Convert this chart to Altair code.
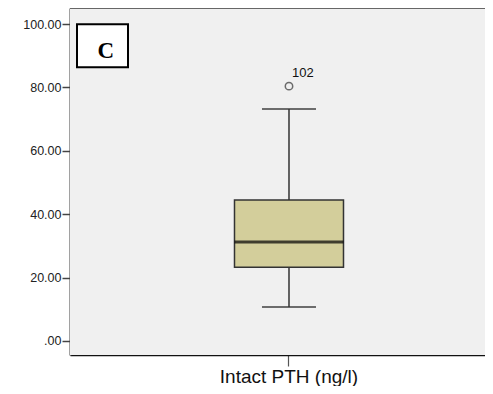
import altair as alt
import pandas as pd

# ---- data ----
categories = ["Intact PTH (ng/l)"]
q1 = [23.3]
median = [31.2]
q3 = [44.5]
whisker_low = [10.7]
whisker_high = [73.2]
outlier_values = [80.4]
outlier_labels = ["102"]
y_ticks = [0, 20, 40, 60, 80, 100]
panel_letter = "C"

box_df = pd.DataFrame({
    "cat": categories, "q1": q1, "median": median, "q3": q3,
    "lo": whisker_low, "hi": whisker_high,
})
out_df = pd.DataFrame({"cat": categories, "v": outlier_values, "lab": outlier_labels})

W, H = 415, 347
FONT = "Liberation Sans"

# band centred slightly right of the visible panel (the panel is cropped on the right)
xscale = alt.Scale(domain=categories, paddingInner=0, paddingOuter=0.5, align=0.5554)
yscale = alt.Scale(domain=[-4.42, 105.05], nice=False, zero=False)

xenc = alt.X("cat:N", scale=xscale, title=None,
             axis=alt.Axis(labelAngle=0, labelFontSize=19, labelFont=FONT,
                           labelColor="#111111", labelPadding=1, tickSize=11,
                           tickColor="#555555", tickWidth=1.2, domainColor="#111111",
                           domainWidth=1.5, grid=False))
yaxis = alt.Axis(values=y_ticks, title=None, grid=False,
                 labelExpr="datum.value == 0 ? '.00' : format(datum.value, '.2f')",
                 labelFontSize=12.5, labelFont=FONT, labelColor="#222222",
                 labelPadding=1, tickSize=8, tickColor="#444444", tickWidth=1.5,
                 domainColor="#444444", domainWidth=2)

base = alt.Chart(box_df)

panel_bg = alt.Chart(box_df).mark_rect(fill="#F0F0F0", strokeWidth=0).encode(
    x=alt.value(0), x2=alt.value(W + 30), y=alt.value(0), y2=alt.value(H))

whisker = base.mark_rule(color="#333333", strokeWidth=1.5).encode(
    x=xenc, y=alt.Y("lo:Q", scale=yscale, axis=yaxis), y2="hi:Q")
caps_lo = base.mark_tick(color="#333333", thickness=2, size=54, orient="horizontal").encode(
    x=xenc, y=alt.Y("lo:Q", scale=yscale))
caps_hi = base.mark_tick(color="#333333", thickness=2, size=54, orient="horizontal").encode(
    x=xenc, y=alt.Y("hi:Q", scale=yscale))
box = base.mark_bar(size=109, fill="#D3CE9B", stroke="#333333", strokeWidth=1.5).encode(
    x=xenc, y=alt.Y("q1:Q", scale=yscale), y2="q3:Q")
med = base.mark_tick(color="#000000", thickness=3, size=109, orient="horizontal").encode(
    x=xenc, y=alt.Y("median:Q", scale=yscale))

outl = alt.Chart(out_df).mark_point(shape="circle", filled=False, size=55,
                                    color="#333333", strokeWidth=1.5).encode(
    x=xenc, y=alt.Y("v:Q", scale=yscale))
outl_txt = alt.Chart(out_df).mark_text(align="left", baseline="alphabetic", dx=3, dy=-9,
                                       fontSize=13, font=FONT, color="#111111").encode(
    x=xenc, y=alt.Y("v:Q", scale=yscale), text="lab:N")

top_border = alt.Chart(box_df).mark_rule(color="#3a3a3a", strokeWidth=1.5).encode(
    x=alt.value(0), x2=alt.value(W + 30), y=alt.value(0))

letter_box = alt.Chart(box_df).mark_rect(fill="white", stroke="black", strokeWidth=2).encode(
    x=alt.value(7), x2=alt.value(58), y=alt.value(16.3), y2=alt.value(59.3))
letter = alt.Chart(box_df).mark_text(font="Liberation Serif", fontWeight="bold", fontSize=23,
                                     align="center", baseline="alphabetic",
                                     color="black").encode(
    x=alt.value(35.7), y=alt.value(50.3), text=alt.value(panel_letter))

chart = alt.layer(panel_bg, whisker, caps_lo, caps_hi, box, med, outl, outl_txt,
                  top_border, letter_box, letter).properties(
    width=W, height=H,
    autosize=alt.AutoSizeParams(type="none"),
    padding={"left": 62, "top": 0, "right": 0, "bottom": 31},
    background="white",
).configure_view(fill="#F0F0F0", stroke="transparent", strokeWidth=0, strokeOpacity=0)

chart.save("out.html", embed_options={"renderer": "svg", "actions": False})
